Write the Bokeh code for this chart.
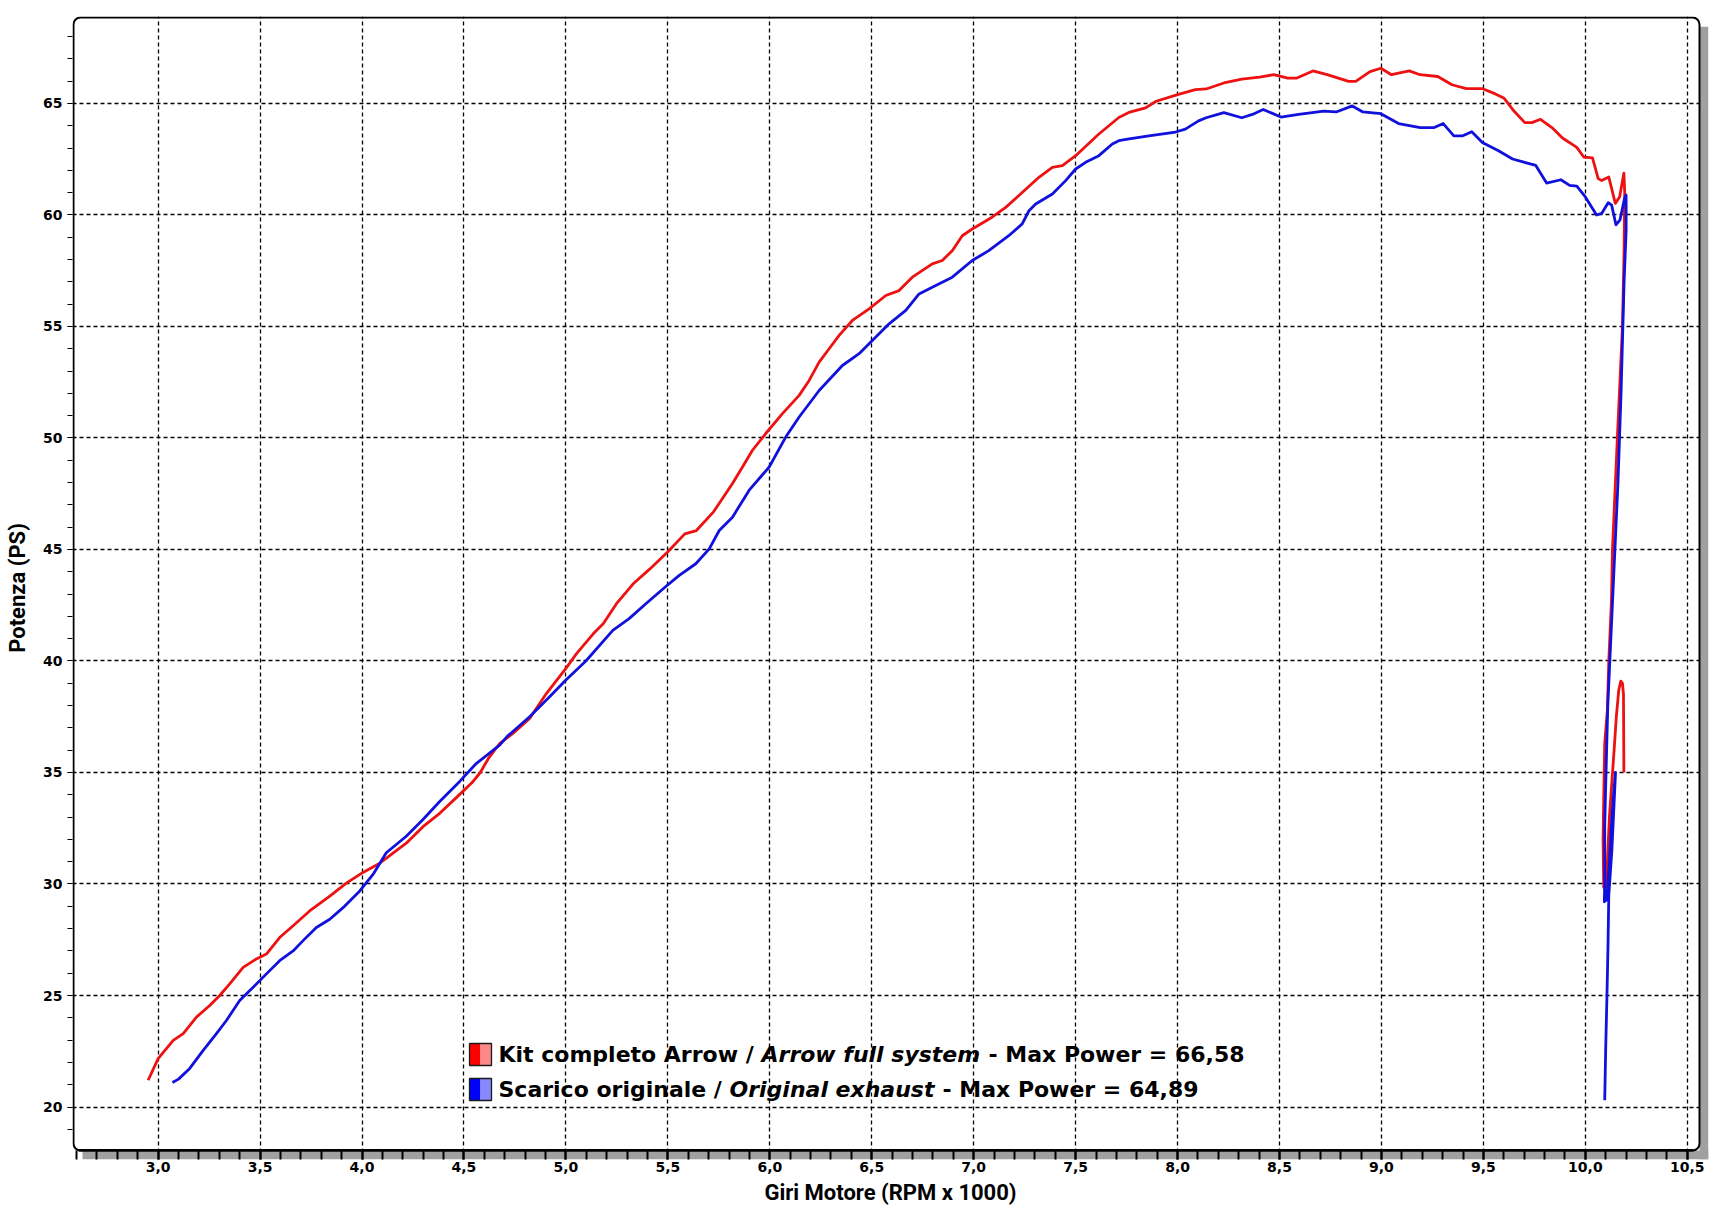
from bokeh.plotting import figure
from bokeh.models import Range1d, FixedTicker, CustomJSTickFormatter, BoxAnnotation, Label
from bokeh.embed import file_html
from bokeh.resources import INLINE

# ---------------- data ----------------
rpm_arrow = [2.951, 3.0, 3.074, 3.123, 3.188, 3.253, 3.302, 3.351, 3.417, 3.482, 3.531, 3.596,
             3.662, 3.743, 3.842, 3.923, 4.005, 4.087, 4.152, 4.217, 4.299, 4.381, 4.46, 4.54,
             4.58, 4.62, 4.675, 4.74, 4.822, 4.904, 5.0, 5.053, 5.134, 5.183, 5.248, 5.33,
             5.412, 5.5, 5.583, 5.64, 5.725, 5.817, 5.866, 5.915, 5.98, 6.062, 6.144, 6.193,
             6.242, 6.291, 6.34, 6.405, 6.487, 6.569, 6.634, 6.699, 6.797, 6.846, 6.895, 6.944,
             6.993, 7.09, 7.157, 7.238, 7.32, 7.386, 7.435, 7.5, 7.614, 7.712, 7.761, 7.843,
             7.895, 8.0, 8.087, 8.14, 8.227, 8.315, 8.402, 8.472, 8.54, 8.585, 8.664, 8.734,
             8.839, 8.874, 8.944, 8.997, 9.049, 9.136, 9.189, 9.276, 9.346, 9.416, 9.493, 9.556,
             9.6, 9.65, 9.703, 9.738, 9.78, 9.836, 9.888, 9.958, 9.993, 10.035, 10.063, 10.08,
             10.115, 10.147, 10.168, 10.189, 10.193, 10.19, 10.182, 10.157, 10.133, 10.128,
             10.115, 10.108, 10.095, 10.09, 10.087, 10.09, 10.103, 10.11, 10.118, 10.141,
             10.152, 10.164, 10.174, 10.182, 10.187, 10.189]
ps_arrow = [21.2, 22.17, 22.99, 23.29, 24.03, 24.55, 25.0, 25.52, 26.26, 26.64, 26.86, 27.6,
            28.13, 28.79, 29.46, 30.04, 30.52, 30.93, 31.38, 31.83, 32.57, 33.17, 33.85, 34.55,
            35.0, 35.63, 36.3, 36.75, 37.42, 38.54, 39.67, 40.34, 41.22, 41.67, 42.57, 43.46,
            44.13, 44.9, 45.7, 45.85, 46.7, 47.96, 48.7, 49.45, 50.2, 51.09, 51.91, 52.58,
            53.4, 54.0, 54.6, 55.27, 55.79, 56.39, 56.61, 57.21, 57.81, 57.96, 58.4, 59.07,
            59.37, 59.9, 60.34, 61.01, 61.69, 62.13, 62.21, 62.66, 63.63, 64.37, 64.6, 64.8,
            65.1, 65.4, 65.62, 65.65, 65.92, 66.09, 66.18, 66.29, 66.14, 66.14, 66.46, 66.29,
            65.99, 65.99, 66.43, 66.58, 66.29, 66.46, 66.29, 66.21, 65.84, 65.67, 65.67, 65.44,
            65.25, 64.66, 64.14, 64.14, 64.29, 63.92, 63.45, 63.03, 62.59, 62.56, 61.63, 61.55,
            61.7, 60.52, 60.81, 61.88, 61.0, 58.4, 55.0, 50.0, 45.0, 42.7,
            40.0, 37.8, 36.3, 33.8, 32.0, 29.85, 29.9, 31.4, 33.0, 36.0,
            37.5, 38.7, 39.1, 39.0, 38.5, 35.0]

rpm_orig = [3.07, 3.1, 3.155, 3.221, 3.286, 3.335, 3.4, 3.466, 3.531, 3.596, 3.662, 3.711,
            3.776, 3.842, 3.907, 3.989, 4.054, 4.119, 4.217, 4.299, 4.381, 4.479, 4.56, 4.675,
            4.71, 4.822, 4.92, 5.0, 5.098, 5.23, 5.31, 5.392, 5.49, 5.556, 5.637, 5.703,
            5.752, 5.817, 5.899, 5.997, 6.078, 6.144, 6.242, 6.356, 6.438, 6.503, 6.585, 6.667,
            6.732, 6.797, 6.895, 6.993, 7.074, 7.172, 7.238, 7.271, 7.304, 7.386, 7.451, 7.5,
            7.549, 7.614, 7.68, 7.712, 7.755, 7.859, 7.99, 8.038, 8.103, 8.14, 8.227, 8.315,
            8.367, 8.42, 8.507, 8.594, 8.717, 8.778, 8.857, 8.909, 8.997, 9.084, 9.19, 9.259,
            9.303, 9.355, 9.399, 9.443, 9.495, 9.574, 9.643, 9.757, 9.81, 9.88, 9.923, 9.958,
            10.0, 10.055, 10.08, 10.112, 10.129, 10.15, 10.17, 10.192, 10.2, 10.2,
            10.19, 10.175, 10.16, 10.14, 10.125, 10.11, 10.1, 10.095, 10.095, 10.093,
            10.105, 10.118, 10.13, 10.14, 10.148, 10.13, 10.115, 10.111, 10.106, 10.1, 10.095]
ps_orig = [21.1, 21.25, 21.73, 22.54, 23.29, 23.88, 24.78, 25.37, 25.97, 26.56, 27.0, 27.46,
           28.05, 28.42, 28.94, 29.69, 30.43, 31.4, 32.14, 32.89, 33.7, 34.6, 35.4, 36.23,
           36.6, 37.5, 38.4, 39.15, 40.0, 41.37, 41.9, 42.57, 43.34, 43.84, 44.36, 45.03,
           45.85, 46.45, 47.66, 48.7, 50.04, 50.94, 52.13, 53.25, 53.78, 54.37, 55.12, 55.72,
           56.46, 56.76, 57.21, 57.96, 58.4, 59.07, 59.6, 60.19, 60.49, 60.94, 61.54, 62.06,
           62.36, 62.66, 63.18, 63.33, 63.4, 63.55, 63.72, 63.85, 64.22, 64.36, 64.59, 64.36,
           64.51, 64.73, 64.39, 64.51, 64.66, 64.62, 64.89, 64.62, 64.54, 64.1, 63.92, 63.92,
           64.1, 63.55, 63.55, 63.73, 63.25, 62.88, 62.51, 62.22, 61.43, 61.58, 61.33, 61.29,
           60.81, 60.0, 60.07, 60.55, 60.44, 59.56, 59.78, 60.74, 60.9, 59.3,
           57.0, 52.0, 48.0, 44.0, 41.0, 38.0, 34.5, 32.6, 30.0, 29.2,
           29.3, 31.0, 33.0, 34.2, 35.0, 31.5, 29.5, 27.2, 25.0, 22.7, 20.3]

x_major = [3.0, 3.5, 4.0, 4.5, 5.0, 5.5, 6.0, 6.5, 7.0, 7.5, 8.0, 8.5, 9.0, 9.5, 10.0, 10.5]
x_minor = [round(2.6 + 0.1 * i, 1) for i in range(80)]
y_major = [20, 25, 30, 35, 40, 45, 50, 55, 60, 65]
y_minor = list(range(19, 69))

legend_arrow = ["Kit completo Arrow / ", "Arrow full system", "- Max Power = 66,58"]
legend_orig = ["Scarico originale / ", "Original exhaust", "- Max Power = 64,89"]

RED = "#ee1111"
BLUE = "#1111dd"
SHADOW = "#a0a0a0"

# frame geometry (pixels): the drawn frame plus a 9px shadow band right/below
FW, FH, SH = 1636, 1143, 9

p = figure(frame_width=FW, frame_height=FH, output_backend="svg", toolbar_location=None,
           x_range=Range1d(2.58, 10.604), y_range=Range1d(17.646, 68.9),
           min_border_left=72, min_border_right=2, min_border_top=16, min_border_bottom=44)
p.outline_line_color = None
p.background_fill_color = "white"
p.border_fill_color = "white"

def sbox(l, r, b, t, **kw):
    return BoxAnnotation(left=l, right=r, bottom=b, top=t,
                         left_units="screen", right_units="screen",
                         bottom_units="screen", top_units="screen", **kw)

# axes
p.xaxis.ticker = FixedTicker(ticks=x_major, minor_ticks=x_minor)
p.xaxis.formatter = CustomJSTickFormatter(code="return tick.toFixed(1).replace('.', ',');")
p.yaxis.ticker = FixedTicker(ticks=y_major, minor_ticks=y_minor)

for ax in (p.xaxis[0], p.yaxis[0]):
    ax.major_label_text_font = "DejaVu Sans"
    ax.major_label_text_font_style = "bold"
    ax.major_label_text_font_size = "14px"
    ax.major_label_text_color = "black"
    ax.axis_label_text_font = "Roboto"
    ax.axis_label_text_font_style = "bold"
    ax.axis_label_text_font_size = "22px"
    ax.axis_label_text_color = "black"
    ax.axis_line_color = None
    ax.major_tick_line_color = "black"
    ax.minor_tick_line_color = "black"

p.xaxis.axis_label = "Giri Motore (RPM x 1000)"
p.xaxis.major_tick_in = SH
p.xaxis.minor_tick_in = SH
p.xaxis.major_tick_out = 0
p.xaxis.minor_tick_out = 0
p.xaxis.major_tick_line_width = 2
p.xaxis.minor_tick_line_width = 2
p.xaxis.major_label_standoff = 2
p.xaxis.axis_label_standoff = 5

p.yaxis.axis_label = "Potenza (PS)"
p.yaxis.major_tick_in = 0
p.yaxis.minor_tick_in = 0
p.yaxis.major_tick_out = 5
p.yaxis.minor_tick_out = 5
p.yaxis.major_tick_line_width = 1
p.yaxis.minor_tick_line_width = 1
p.yaxis.major_label_standoff = 5
p.yaxis.axis_label_standoff = 10

for g in (p.xgrid[0], p.ygrid[0]):
    g.grid_line_color = "black"
    g.grid_line_dash = "4 3"
    g.grid_line_width = 1.3

# shadow bands (inside the plotting area, covering the grid)
p.add_layout(sbox(10, FW, 0, SH, fill_color=SHADOW, fill_alpha=1, line_color=None, level="underlay"))
p.add_layout(sbox(FW - SH, FW, 0, FH - 10, fill_color=SHADOW, fill_alpha=1, line_color=None, level="underlay"))
p.add_layout(sbox(FW - SH, FW, FH - 10, FH, fill_color="white", fill_alpha=1, line_color=None, level="underlay"))

# curves
p.line(rpm_arrow, ps_arrow, line_color=RED, line_width=2.8, line_join="round")
p.line(rpm_orig, ps_orig, line_color=BLUE, line_width=2.8, line_join="round")

# drawn frame with rounded corners, thicker bottom edge
p.add_layout(sbox(1, FW - SH, SH, FH - 1, fill_alpha=0, fill_color=None, line_color="black",
                  line_alpha=1, line_width=2, border_radius=7, level="overlay"))
p.add_layout(sbox(6, FW - SH - 6, SH - 1, SH + 1.5, fill_color="black", fill_alpha=1,
                  line_color=None, level="overlay"))

# legend (manual, screen units relative to the plotting area)
def swatch(y_bottom, c1, c2):
    p.add_layout(sbox(397, 408, y_bottom, y_bottom + 22, fill_color=c1, fill_alpha=1, line_color=None))
    p.add_layout(sbox(408, 419, y_bottom, y_bottom + 22, fill_color=c2, fill_alpha=1, line_color=None))
    p.add_layout(sbox(397, 419, y_bottom, y_bottom + 22, fill_alpha=0, fill_color=None,
                      line_color="#1a1a1a", line_alpha=1, line_width=1.3))

swatch(94, "#ff0000", "#ff8888")
swatch(59, "#0000ff", "#8888ff")

def legend_line(parts, xs, y):
    styles = ["bold", "bold italic", "bold"]
    for t, x, s in zip(parts, xs, styles):
        p.add_layout(Label(x=x, y=y, x_units="screen", y_units="screen", text=t,
                           text_font="DejaVu Sans", text_font_style=s, text_font_size="22px",
                           text_color="black", text_baseline="middle", text_align="left"))

legend_line(legend_arrow, [426, 689, 916], 105)
legend_line(legend_orig, [426, 657, 870], 70)

open("out.html", "w").write(file_html(p, INLINE))
